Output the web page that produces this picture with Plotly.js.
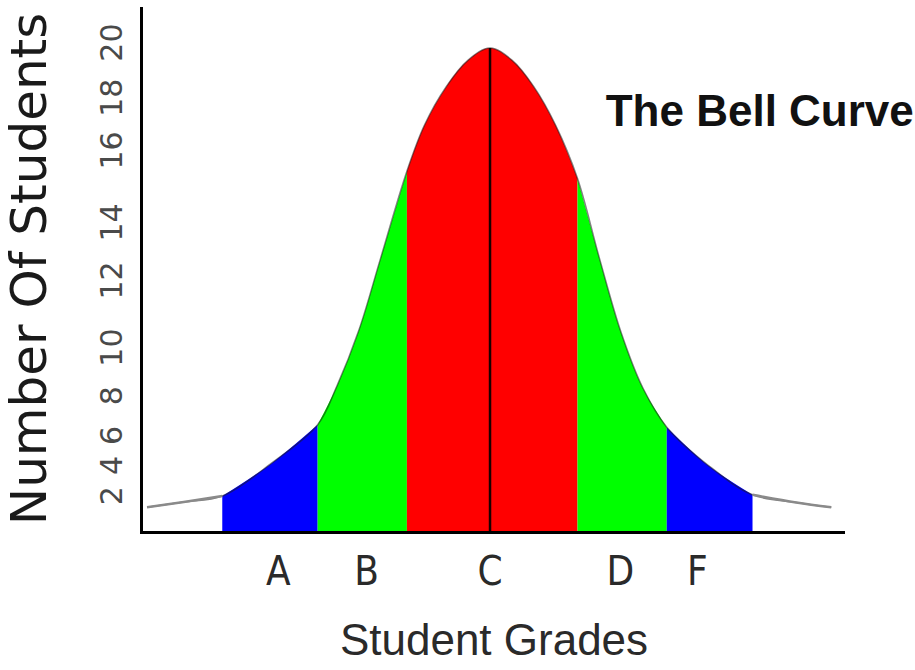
<!DOCTYPE html>
<html>
<head>
<meta charset="utf-8">
<script src="https://cdn.plot.ly/plotly-3.0.1.min.js"></script>
<style>
  body { margin: 0; background: #fff; }
  #chart { width: 915px; height: 670px; }
</style>
</head>
<body>
<div id="chart"></div>
<script>
// curve (x in standard deviations from the mean)
var gradeX = [-3.92, -3.5, -3.06, -2.5, -1.97, -1.75, -1.5, -1.25, -0.95, -0.75, -0.5, -0.25, 0,
  0.25, 0.5, 0.75, 1.0, 1.25, 1.5, 1.75, 2.02, 2.5, 3.0, 3.5, 3.9];
var students = [0.98, 1.2, 1.45, 2.8, 4.4, 6.0, 8.3, 11.3, 14.9, 16.8, 18.4, 19.5, 20.0,
  19.5, 18.4, 16.8, 14.6, 11.3, 8.2, 5.9, 4.3, 2.7, 1.5, 1.18, 0.98];

// coloured bands under the curve
var bandEdges = [-3.06, -1.97, -0.95, 1.0, 2.02, 3.0];
var bandColors = ["#0000ff", "#00ff00", "#ff0000", "#00ff00", "#0000ff"];

// grade labels
var gradeLabels = ["A", "B", "C", "D", "F"];
var gradePos = [-2.42, -1.41, 0, 1.49, 2.37];

// the y labels in the picture are not evenly spaced
var yTickText = ["2", "4", "6", "8", "10", "12", "14", "16", "18", "20"];
var yTickPos = [1.28, 2.53, 3.77, 5.42, 7.41, 10.19, 12.59, 15.57, 17.76, 20.04];

function slice(lo, hi) {
  var xs = [], ys = [];
  gradeX.forEach(function (x, i) {
    if (x >= lo && x <= hi) { xs.push(x); ys.push(students[i]); }
  });
  return { x: xs, y: ys };
}

var data = [];

// bands
for (var i = 0; i < bandColors.length; i++) {
  var s = slice(bandEdges[i], bandEdges[i + 1]);
  data.push({
    x: s.x, y: s.y, type: "scatter", mode: "lines",
    line: { shape: "spline", width: 0, color: bandColors[i] },
    fill: "tozeroy", fillcolor: bandColors[i], hoverinfo: "skip"
  });
}

// outline of the whole curve
data.push({
  x: gradeX, y: students, type: "scatter", mode: "lines",
  line: { shape: "spline", width: 1.5, color: "rgba(30,30,30,0.55)" }
});

// tails
var left = slice(-10, bandEdges[0]);
var right = slice(bandEdges[bandEdges.length - 1], 10);
[left, right].forEach(function (t) {
  data.push({
    x: t.x, y: t.y, type: "scatter", mode: "lines",
    line: { shape: "spline", width: 2.5, color: "#8a8a8a" }
  });
});

// mean line
var peak = students[gradeX.indexOf(0)];
data.push({
  x: [0, 0], y: [0, peak], type: "scatter", mode: "lines",
  line: { width: 2.5, color: "#1a0000" }
});

var narrow = "DejaVu Sans Condensed, Liberation Sans, Arial, sans-serif";
var wide = "DejaVu Sans, Verdana, sans-serif";

var layout = {
  width: 915,
  height: 670,
  showlegend: false,
  paper_bgcolor: "#fff",
  plot_bgcolor: "#fff",
  margin: { l: 143, r: 70, t: 7, b: 139 },
  title: {
    text: "<b>The Bell Curve</b>",
    font: { family: "Liberation Sans, Arial, sans-serif", size: 44, color: "#111" },
    xref: "container", yref: "container",
    x: 0.662, xanchor: "left",
    y: 0.835, yanchor: "middle"
  },
  xaxis: {
    range: [-3.966, 4.057],
    showgrid: false, zeroline: false,
    showline: true, linecolor: "#000", linewidth: 3,
    tickvals: gradePos, ticktext: gradeLabels,
    ticks: "outside", ticklen: 3, tickcolor: "rgba(0,0,0,0)",
    tickfont: { family: narrow, size: 40, color: "#2a2a2a" },
    title: {
      text: "Student Grades",
      font: { family: "Liberation Sans, Arial, sans-serif", size: 44, color: "#2a2a2a" },
      standoff: 32
    }
  },
  yaxis: {
    range: [0, 21.7],
    showgrid: false, zeroline: false,
    showline: true, linecolor: "#000", linewidth: 3,
    tickvals: yTickPos, ticktext: yTickText,
    tickangle: -90,
    ticks: "outside", ticklen: 6, tickcolor: "rgba(0,0,0,0)",
    tickfont: { family: wide, size: 30, color: "#4a4a4a" },
    title: {
      text: "Number Of Students",
      font: { family: wide, size: 50, color: "#1a1a1a" },
      standoff: 44
    }
  }
};

Plotly.newPlot("chart", data, layout, { displayModeBar: false, staticPlot: true });
</script>
</body>
</html>
